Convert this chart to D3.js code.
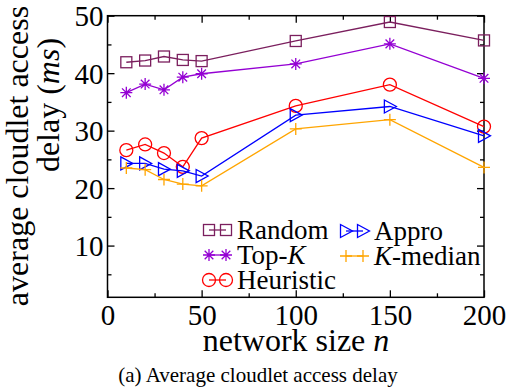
<!DOCTYPE html>
<html>
<head>
<meta charset="utf-8">
<script src="https://cdn.jsdelivr.net/npm/d3@7"></script>
<style>
  html, body { margin: 0; padding: 0; background: #fff; }
</style>
</head>
<body>
<svg id="chart" width="510" height="391"></svg>
<script>
// Network sizes on the x axis
const networkSizes = [10, 20, 30, 40, 50, 100, 150, 200];

// Average cloudlet access delay (ms) per algorithm
const randomDelay    = [41.9, 42.2, 42.9, 42.3, 42.1, 45.6, 48.9, 45.7];
const topKDelay      = [36.6, 38.1, 37.1, 39.3, 39.9, 41.6, 45.1, 39.1];
const heuristicDelay = [26.6, 27.6, 26.1, 23.7, 28.7, 34.3, 38.0, 30.7];
const approDelay     = [24.3, 24.3, 23.3, 23.0, 22.1, 32.7, 34.2, 29.1];
const kMedianDelay   = [23.5, 23.2, 21.5, 20.7, 20.4, 30.3, 31.9, 23.6];

// Tick values
const xMajorTicks = [0, 50, 100, 150, 200];
const xMinorTicks = [25, 75, 125, 175];
const yMajorTicks = [10, 20, 30, 40, 50];
const yMinorTicks = [5, 15, 25, 35, 45];

const series = [
  { name: "Random",    values: randomDelay,    color: "#7b1f5e", marker: "square" },
  { name: "Top-K",     values: topKDelay,      color: "#9400d3", marker: "star" },
  { name: "Heuristic", values: heuristicDelay, color: "#ff0000", marker: "circle" },
  { name: "Appro",     values: approDelay,     color: "#0000ff", marker: "triangle" },
  { name: "K-median",  values: kMedianDelay,   color: "#ffa500", marker: "plus" }
];

const SERIF = "'Liberation Serif', 'Times New Roman', serif";

const svg = d3.select("#chart");
const plotLeft = 107.5, plotRight = 484, plotTop = 15.7, plotBottom = 297.3;

const x = d3.scaleLinear().domain([0, 200]).range([plotLeft, plotRight]);
const y = d3.scaleLinear().domain([1, 50]).range([plotBottom, plotTop]);

// Marker drawing helpers
function drawMarker(g, type, cx, cy, color) {
  const s = 6;
  if (type === "square") {
    g.append("rect").attr("x", cx - 5.5).attr("y", cy - 5.5)
      .attr("width", 11).attr("height", 11)
      .attr("fill", "none").attr("stroke", color).attr("stroke-width", 1.3);
  } else if (type === "circle") {
    g.append("circle").attr("cx", cx).attr("cy", cy).attr("r", 6.5)
      .attr("fill", "none").attr("stroke", color).attr("stroke-width", 1.3);
  } else if (type === "triangle") {
    g.append("path")
      .attr("d", `M${cx - 5.5},${cy - 6.5}L${cx + 6.5},${cy}L${cx - 5.5},${cy + 6.5}Z`)
      .attr("fill", "none").attr("stroke", color).attr("stroke-width", 1.3);
  } else if (type === "plus") {
    g.append("path")
      .attr("d", `M${cx - s},${cy}H${cx + s}M${cx},${cy - s}V${cy + s}`)
      .attr("stroke", color).attr("stroke-width", 1.3);
  } else if (type === "star") {
    const d = s * 0.72;
    g.append("path")
      .attr("d", `M${cx - s},${cy}H${cx + s}M${cx},${cy - s}V${cy + s}` +
                 `M${cx - d},${cy - d}L${cx + d},${cy + d}M${cx - d},${cy + d}L${cx + d},${cy - d}`)
      .attr("stroke", color).attr("stroke-width", 1.3);
  }
}

// Axes with inward ticks on all four sides
function styleAxis(g) {
  g.select(".domain").remove();
  g.selectAll(".tick line").attr("stroke", "#000").attr("stroke-width", 1.3);
  g.selectAll("text").style("font-family", SERIF).style("font-size", "29px").attr("fill", "#000");
}

svg.append("g").attr("transform", `translate(0,${plotBottom})`)
  .call(d3.axisBottom(x).tickValues(xMajorTicks).tickSize(-7).tickPadding(7).tickFormat(d3.format("d")))
  .call(styleAxis)
  .call(g => g.selectAll("text").attr("dy", "0.72em"));
svg.append("g").attr("transform", `translate(0,${plotBottom})`)
  .call(d3.axisBottom(x).tickValues(xMinorTicks).tickSize(-4).tickFormat(""))
  .call(styleAxis);
svg.append("g").attr("transform", `translate(0,${plotTop})`)
  .call(d3.axisTop(x).tickValues(xMajorTicks).tickSize(-7).tickFormat(""))
  .call(styleAxis);
svg.append("g").attr("transform", `translate(0,${plotTop})`)
  .call(d3.axisTop(x).tickValues(xMinorTicks).tickSize(-4).tickFormat(""))
  .call(styleAxis);

svg.append("g").attr("transform", `translate(${plotLeft},0)`)
  .call(d3.axisLeft(y).tickValues(yMajorTicks).tickSize(-7).tickPadding(4).tickFormat(d3.format("d")))
  .call(styleAxis)
  .call(g => g.selectAll("text").attr("dy", "0.35em"));
svg.append("g").attr("transform", `translate(${plotLeft},0)`)
  .call(d3.axisLeft(y).tickValues(yMinorTicks).tickSize(-4).tickFormat(""))
  .call(styleAxis);
svg.append("g").attr("transform", `translate(${plotRight},0)`)
  .call(d3.axisRight(y).tickValues(yMajorTicks).tickSize(-7).tickFormat(""))
  .call(styleAxis);
svg.append("g").attr("transform", `translate(${plotRight},0)`)
  .call(d3.axisRight(y).tickValues(yMinorTicks).tickSize(-4).tickFormat(""))
  .call(styleAxis);

// Plot frame
svg.append("rect")
  .attr("x", plotLeft).attr("y", plotTop)
  .attr("width", plotRight - plotLeft).attr("height", plotBottom - plotTop)
  .attr("fill", "none").attr("stroke", "#000").attr("stroke-width", 1.5);

// Series lines and markers
const line = d3.line().x((d, i) => x(networkSizes[i])).y(d => y(d));
series.forEach(s => {
  const g = svg.append("g");
  g.append("path").datum(s.values)
    .attr("d", line)
    .attr("fill", "none").attr("stroke", s.color).attr("stroke-width", 1.3);
  s.values.forEach((v, i) => drawMarker(g, s.marker, x(networkSizes[i]), y(v), s.color));
});

// Legend: two columns
const legendRows = [
  { s: series[0], x: 203, cy: 230 },
  { s: series[1], x: 203, cy: 255 },
  { s: series[2], x: 203, cy: 280 },
  { s: series[3], x: 340, cy: 231 },
  { s: series[4], x: 340, cy: 256 }
];
const legend = svg.append("g");
legendRows.forEach(r => {
  const x1 = r.x + 6, x2 = r.x + 23;
  legend.append("line").attr("x1", x1).attr("x2", x2).attr("y1", r.cy).attr("y2", r.cy)
    .attr("stroke", r.s.color).attr("stroke-width", 1.3);
  drawMarker(legend, r.s.marker, x1, r.cy, r.s.color);
  drawMarker(legend, r.s.marker, x2, r.cy, r.s.color);
  const t = legend.append("text").attr("x", r.x + 34).attr("y", r.cy + 8.5)
    .style("font-family", SERIF).style("font-size", "27px");
  if (r.s.name === "Top-K") {
    t.append("tspan").text("Top-");
    t.append("tspan").attr("font-style", "italic").text("K");
  } else if (r.s.name === "K-median") {
    t.append("tspan").attr("font-style", "italic").text("K");
    t.append("tspan").text("-median");
  } else {
    t.text(r.s.name);
  }
});

// Axis titles
const xt = svg.append("text").attr("x", 296).attr("y", 351)
  .attr("text-anchor", "middle").style("font-family", SERIF).style("font-size", "32px");
xt.append("tspan").text("network size ");
xt.append("tspan").attr("font-style", "italic").text("n");

svg.append("text")
  .attr("transform", "translate(28,156) rotate(-90)")
  .attr("text-anchor", "middle").style("font-family", SERIF).style("font-size", "32px")
  .text("average cloudlet access");
const yt = svg.append("text")
  .attr("transform", "translate(59,105) rotate(-90)")
  .attr("text-anchor", "middle").style("font-family", SERIF).style("font-size", "32px");
yt.append("tspan").text("delay (");
yt.append("tspan").attr("font-style", "italic").text("ms");
yt.append("tspan").text(")");

// Caption
svg.append("text").attr("x", 258).attr("y", 382)
  .attr("text-anchor", "middle").style("font-family", SERIF).style("font-size", "21px")
  .text("(a)  Average cloudlet access delay");
</script>
</body>
</html>
